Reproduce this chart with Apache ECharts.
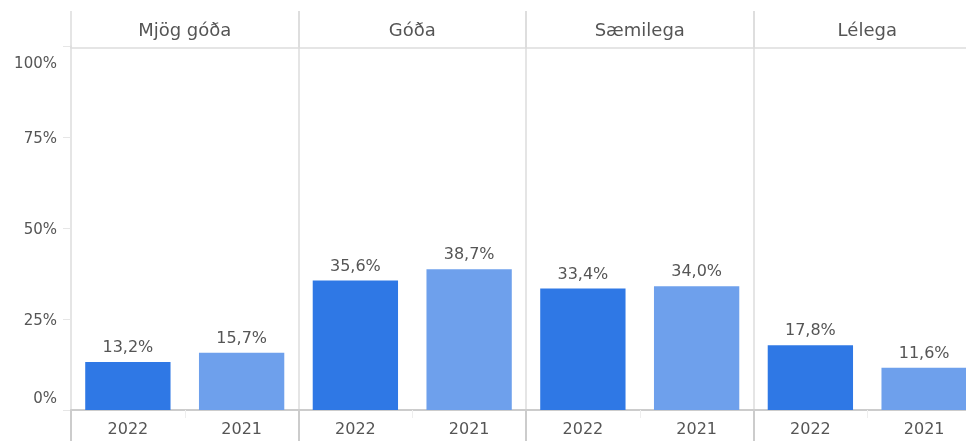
<!DOCTYPE html>
<html>
<head>
<meta charset="utf-8">
<title>Mat á gæðum</title>
<script src="https://cdn.jsdelivr.net/npm/echarts@6/dist/echarts.min.js"></script>
<style>
  html, body { margin: 0; padding: 0; background: #fff; overflow: hidden; }
  /* síðasti reiturinn nær út fyrir gluggann eins og á myndinni */
  #chart { width: 990px; height: 441px; }
</style>
</head>
<body>
<div id="chart"></div>
<script>
// gögn
var panels = ['Mjög góða', 'Góða', 'Sæmilega', 'Lélega']
var years = ['2022', '2021']
var values2022 = [13.2, 35.6, 33.4, 17.8]
var values2021 = [15.7, 38.7, 34.0, 11.6]
var yTicks = [0, 25, 50, 75, 100]

var colors = ['#2f78e5', '#6ea0ec']
var textColor = '#555'
var font = 'DejaVu Sans'

var chart = echarts.init(document.getElementById('chart'))

var panelLeft = 71
var panelWidth = 227.5

var grid = []
var xAxis = []
var yAxis = []
var series = []

function fmt(v) {
  return v.toFixed(1).replace('.', ',') + '%'
}

for (var i = 0; i < panels.length; i++) {
  grid.push({
    left: panelLeft + i * panelWidth,
    width: panelWidth,
    top: 46,
    bottom: 31
  })

  // ár neðst
  xAxis.push({
    type: 'category',
    gridIndex: i,
    data: years,
    position: 'bottom',
    axisLine: { lineStyle: { color: '#cccccc', width: 2 } },
    axisTick: { show: true, length: 8, lineStyle: { color: '#eeeeee' } },
    axisLabel: { color: textColor, fontFamily: font, fontSize: 16, margin: 12 }
  })
  // fyrirsögn efst
  xAxis.push({
    type: 'category',
    gridIndex: i,
    data: [panels[i]],
    position: 'top',
    offset: -2,
    axisLine: { lineStyle: { color: '#dddddd', width: 1.5 } },
    axisTick: { show: true, length: 37, lineStyle: { color: '#dddddd', width: 1.5 } },
    axisLabel: { color: textColor, fontFamily: font, fontSize: 18, margin: 8 }
  })
  // lóðréttar línur niður fyrir grunnlínu
  xAxis.push({
    type: 'category',
    gridIndex: i,
    data: [''],
    position: 'bottom',
    axisLine: { show: false },
    axisTick: { show: true, length: 31, lineStyle: { color: '#cccccc', width: 2 } },
    axisLabel: { show: false }
  })

  yAxis.push({
    type: 'value',
    gridIndex: i,
    min: yTicks[0],
    max: yTicks[yTicks.length - 1],
    interval: yTicks[1] - yTicks[0],
    splitLine: { show: false },
    axisLine: { show: true, lineStyle: { color: '#dddddd', width: 1.5 } },
    axisTick: { show: i === 0, length: 8, lineStyle: { color: '#e6e6e6' } },
    axisLabel: {
      show: i === 0,
      color: textColor,
      fontFamily: font,
      fontSize: 15,
      margin: 14,
      formatter: function(v) {
        if (v === yTicks[yTicks.length - 1]) return '{t|' + v + '%}'
        if (v === yTicks[0]) return '{b|' + v + '%}'
        return '{m|' + v + '%}'
      },
      rich: {
        t: { color: textColor, fontFamily: font, fontSize: 15, padding: [37, 0, 0, 0] },
        m: { color: textColor, fontFamily: font, fontSize: 15, padding: [4, 0, 0, 0] },
        b: { color: textColor, fontFamily: font, fontSize: 15, padding: [0, 0, 21, 0] }
      }
    }
  })

  series.push({
    type: 'bar',
    xAxisIndex: i * 3,
    yAxisIndex: i,
    barWidth: '75%',
    data: [values2022[i], values2021[i]],
    itemStyle: {
      color: function(p) { return colors[p.dataIndex] }
    },
    label: {
      show: true,
      position: 'top',
      distance: 6,
      color: textColor,
      fontFamily: font,
      fontSize: 16,
      formatter: function(p) { return fmt(p.value) }
    }
  })
}

chart.setOption({
  animation: false,
  grid: grid,
  xAxis: xAxis,
  yAxis: yAxis,
  series: series
})
</script>
</body>
</html>
